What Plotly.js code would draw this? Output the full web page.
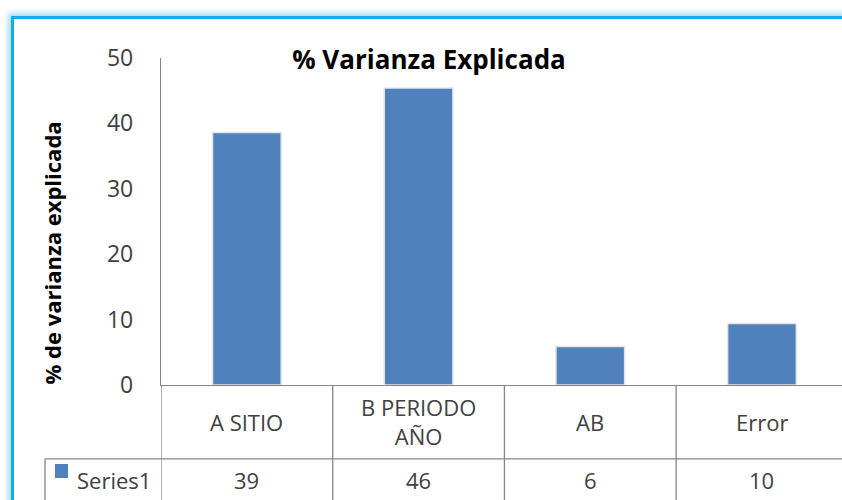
<!DOCTYPE html>
<html>
<head>
<meta charset="utf-8">
<script src="https://cdn.plot.ly/plotly-3.0.1.min.js"></script>
<style>
  body { margin: 0; background: #fff; }
  #chart { width: 842px; height: 500px; }
  #frame {
    position: absolute; left: 11px; top: 16px; width: 900px; height: 560px;
    border-top: 3px solid #12AEEC; border-left: 3px solid #12AEEC;
    box-shadow: -3px -3px 6px rgba(0, 150, 230, 0.35);
    pointer-events: none;
  }
</style>
</head>
<body>
<div id="chart"></div>
<div id="frame"></div>
<script>
const categories = ["A SITIO", "B PERIODO<br>AÑO", "AB", "Error"];
const values = [38.6, 45.4, 5.9, 9.4];
const tableValues = ["39", "46", "6", "10"];
const seriesName = "Series1";

const barColor = "#4F81BD";
const gray = "#868686";
const textColor = "#404040";
const font = "Open Sans, Liberation Sans, sans-serif";

const data = [
  {
    x: [0, 1, 2, 3],
    y: values,
    type: "bar",
    name: seriesName,
    width: 0.4,
    marker: {
      color: barColor,
      line: { color: "#e6e6e6", width: 1.5 },
    },
    hoverinfo: "y",
  },
];

// data table text: category row and value row
const annotations = [];
categories.forEach((c, i) => {
  annotations.push({
    x: i, xref: "x", y: -0.113, yref: "paper",
    text: c, showarrow: false, yanchor: "middle",
    font: { family: font, size: 22, color: textColor },
  });
  annotations.push({
    x: i, xref: "x", y: -0.29, yref: "paper",
    text: tableValues[i], showarrow: false, yanchor: "middle",
    font: { family: font, size: 22, color: textColor },
  });
});
// legend key text of the data table
annotations.push({
  x: -0.1263, xref: "paper", xanchor: "left", y: -0.29, yref: "paper",
  text: seriesName, showarrow: false, yanchor: "middle",
  font: { family: font, size: 22, color: textColor },
});

// table grid
const lineStyle = { color: gray, width: 1.3 };
const shapes = [
  { type: "line", xref: "paper", yref: "paper", x0: -0.1703, x1: 1, y0: -0.226, y1: -0.226, line: lineStyle },
  { type: "line", xref: "paper", yref: "paper", x0: -0.1703, x1: -0.1703, y0: -0.226, y1: -0.4, line: lineStyle },
  // legend key square
  { type: "rect", xref: "paper", yref: "paper", x0: -0.1557, x1: -0.1366, y0: -0.2844, y1: -0.2416,
    fillcolor: barColor, line: { width: 0 } },
];
[-0.5, 0.5, 1.5, 2.5].forEach((b) => {
  shapes.push({ type: "line", xref: "x", yref: "paper", x0: b, x1: b, y0: 0, y1: -0.4, line: lineStyle });
});

// trailing spaces push the rotated title down, like excel does
const pad = "\u00A0".repeat(11);

const layout = {
  width: 842,
  height: 500,
  title: {
    text: "<b>% Varianza Explicada</b>",
    font: { family: font, size: 26, color: "#000" },
    xref: "container", x: 0.5095, xanchor: "center",
    yref: "container", y: 0.88, yanchor: "middle",
  },
  margin: { l: 161, r: 0, t: 58, b: 115 },
  xaxis: {
    range: [-0.5, 3.466],
    showticklabels: false,
    showline: true,
    linecolor: gray,
    linewidth: 1.3,
    showgrid: false,
    zeroline: false,
    ticks: "",
    automargin: false,
  },
  yaxis: {
    range: [0, 50],
    dtick: 10,
    showline: true,
    linecolor: gray,
    linewidth: 1.3,
    showgrid: false,
    zeroline: false,
    ticks: "",
    automargin: false,
    ticklabelstandoff: 22,
    tickfont: { family: font, size: 23, color: textColor },
    title: {
      text: "<b>% de varianza explicada" + pad + "</b>",
      font: { family: font, size: 22, color: "#000" },
      standoff: 39,
    },
  },
  showlegend: false,
  annotations,
  shapes,
  paper_bgcolor: "#fff",
  plot_bgcolor: "#fff",
};

Plotly.newPlot("chart", data, layout, { displayModeBar: false });
</script>
</body>
</html>
